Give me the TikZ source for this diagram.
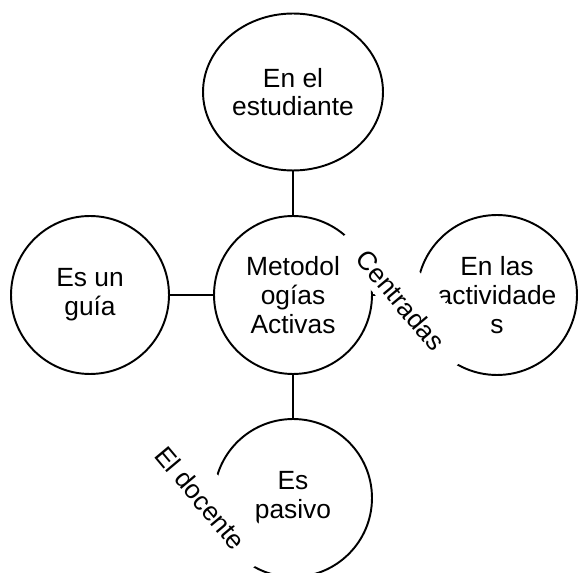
\documentclass[tikz,border=0pt]{standalone}
\usepackage{fontspec}
\setmainfont{Liberation Sans}
\usetikzlibrary{shapes.geometric}

\begin{document}
\begin{tikzpicture}[x=0.02cm,y=-0.02cm,
                    font=\fontsize{15}{16.4}\selectfont]
\useasboundingbox (0,0) rectangle (581,573);
\begin{scope}[every node/.style={circle,draw,line width=1.1pt,
              minimum size=3.16cm,inner sep=1pt,align=center}]
    \node[ellipse,minimum width=3.6cm,minimum height=3.14cm] (estud) at (293,92) {En el\\estudiante};
    \node (meto) at (293,295) {Metodol\\ogías\\Activas};
    \node (guia) at (90,295) {Es un\\guía};
    \node[minimum size=3.2cm] (activ) at (497,295) {En las\\actividade\\s};
    \node (pasivo) at (293,498) {Es\\pasivo};
\end{scope}

\begin{scope}[every node/.style={fill=white,rotate=-50,
                inner xsep=0.5cm,inner ysep=0.06cm,
                text height=0.78cm,text depth=0.074cm},
              every edge/.style={draw,line width=1.1pt}]
    \path (meto) edge (estud);
    \path (meto) edge (guia);
    \path (meto) edge (pasivo);
    \path (meto) edge node[pos=0.79] {Centradas} (activ);
    \node[text height=0.68cm] (docente) at (205,494) {El docente};
\end{scope}
\end{tikzpicture}
\end{document}
